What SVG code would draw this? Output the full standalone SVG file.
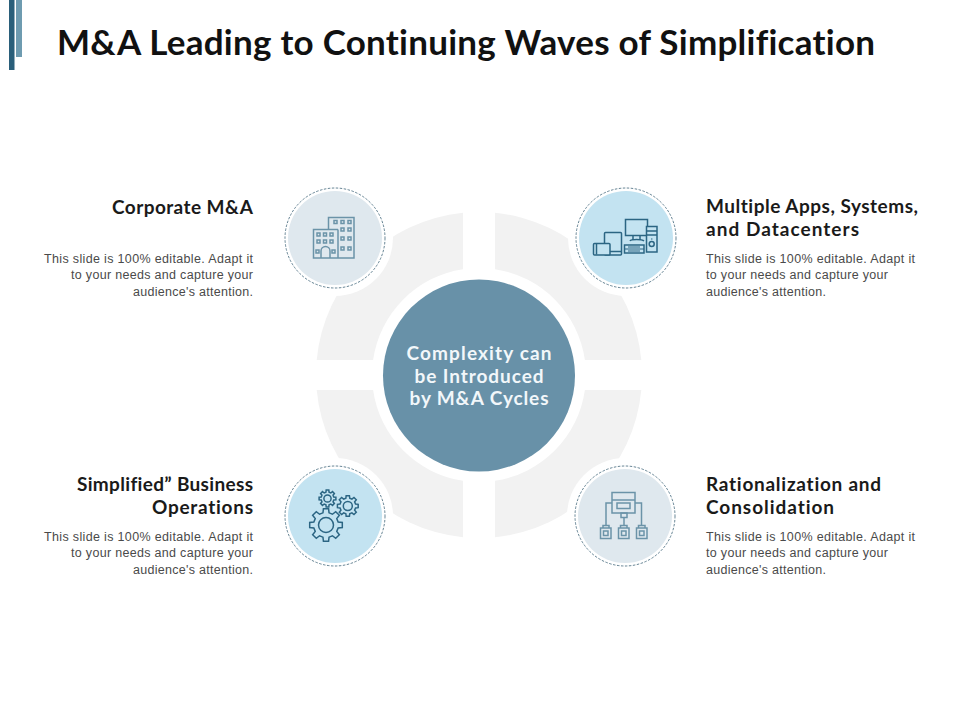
<svg xmlns="http://www.w3.org/2000/svg" xmlns:xlink="http://www.w3.org/1999/xlink" width="960" height="720" viewBox="0 0 960 720">
<style>
text{font-variant-ligatures:none}
.title{font-family:Lato,"Open Sans",sans-serif;font-weight:700;font-size:35px;fill:#111}
.head{font-family:Lato,"Open Sans",sans-serif;font-weight:700;font-size:19px;fill:#1a1a1a}
.body{font-family:"Liberation Sans",Arial,sans-serif;font-size:12.500px;fill:#4a4a4a}
.ctr{font-family:Lato,"Open Sans",sans-serif;font-weight:700;font-size:19px;fill:#f2f7fa;text-anchor:middle}
.end{text-anchor:end}
.seg{fill:#f2f2f2}
.halo{fill:#fff}
.dash{fill:none;stroke:#3f6478;stroke-width:.8;stroke-dasharray:2.500 1.500}
.pale{fill:#dfe8ee}
.sky{fill:#c3e3f1}
.ip{fill:none;stroke:#6b93a8;stroke-width:1.500}
.id{fill:none;stroke:#2b6583;stroke-width:1.500}
.gear{vector-effect:non-scaling-stroke}
</style>
<defs>
<path id="g" class="gear" d="M9.88-1.56 9.88 1.56 7.37 1.84 6.51 3.91 8.09 5.88 5.88 8.09 3.91 6.51 1.84 7.37 1.56 9.88-1.56 9.88-1.84 7.37-3.91 6.51-5.88 8.09-8.09 5.88-6.51 3.91-7.37 1.84-9.88 1.56-9.88-1.56-7.37-1.84-6.51-3.91-8.09-5.88-5.88-8.09-3.91-6.51-1.84-7.37-1.56-9.88 1.56-9.88 1.84-7.37 3.91-6.51 5.88-8.09 8.09-5.88 6.51-3.91 7.37-1.84Z"/>
</defs>
<rect width="960" height="720" fill="#fff"/>
<g id="accent">
<rect x="9" y="0" width="5.500" height="70" fill="#2a5f7a"/>
<rect x="16" y="0" width="6" height="57" fill="#6e9bb0"/>
</g>
<text class="title" x="57" y="55" textLength="818">M&amp;A Leading to Continuing Waves of Simplification</text>
<g id="ring">
<path class="seg" d="M316.7 360A163 163 0 0 1 463 212.8V269.2A107 107 0 0 0 373.1 360Z"/>
<path class="seg" d="M495 212.8A163 163 0 0 1 641.3 360H584.9A107 107 0 0 0 495 269.2Z"/>
<path class="seg" d="M316.7 390H373.1A107 107 0 0 0 463 480.8V537.2A163 163 0 0 1 316.7 390Z"/>
<path class="seg" d="M641.3 390A163 163 0 0 1 495 537.2V480.8A107 107 0 0 0 584.9 390Z"/>
</g>
<g id="center">
<circle cx="479" cy="375.500" r="96" fill="#6891a8"/>
<text class="ctr" x="479" y="360" textLength="145">Complexity can</text>
<text class="ctr" x="479" y="383" textLength="129">be Introduced</text>
<text class="ctr" x="479" y="405" textLength="139">by M&amp;A Cycles</text>
</g>
<g id="node-corporate">
<circle class="halo" cx="335" cy="238" r="58"/>
<circle class="pale" cx="335" cy="238" r="47"/>
<circle class="dash" cx="335" cy="238" r="50"/>
<g class="ip">
<path d="M328.500 229V217.500H354V258H313.500V229.500H338"/>
<path d="M338 229.500V258"/>
<path d="M321 258V251a4.500 4.500 0 0 1 9 0V258"/>
<path d="M334 220.500h3v3h-3zM341 220.500h3v3h-3zM348 220.500h3v3h-3zM341 228h3v3h-3zM348 228h3v3h-3zM341 237h3v3h-3zM348 237h3v3h-3zM341 247h3v3h-3zM348 247h3v3h-3z"/>
<path d="M317 233h3v3h-3zM323.500 233h3v3h-3zM330 233h3v3h-3zM317 240h3v3h-3zM323.500 240h3v3h-3zM330 240h3v3h-3zM316 250h3v3h-3zM332 250h3v3h-3z"/>
</g>
<text class="head end" x="253" y="214" textLength="141">Corporate M&amp;A</text>
<text class="body end" x="253" y="262.500" textLength="209">This slide is 100% editable. Adapt it</text>
<text class="body end" x="253" y="279" textLength="182">to your needs and capture your</text>
<text class="body end" x="253" y="295.500" textLength="120">audience's attention.</text>
</g>
<g id="node-apps">
<circle class="halo" cx="626" cy="238" r="58"/>
<circle class="sky" cx="626" cy="238" r="47"/>
<circle class="dash" cx="626" cy="238" r="50"/>
<g class="id">
<rect x="625.500" y="219.500" width="22" height="16"/>
<path d="M633 235.500V240M640 235.500V240M630 241c1-2 12-2 14 0"/>
<rect x="646.500" y="226.500" width="10.500" height="25.500" fill="#c3e3f1"/>
<path d="M647 231h10M647 235h10"/><circle cx="651.700" cy="244" r="2.500"/><path d="M651.700 238.500v1"/>
<rect x="624.500" y="245" width="19.500" height="8"/><path d="M625 249h19M628 247h12M628 251h12" stroke-width="1"/>
<rect x="604.500" y="232.500" width="17" height="22.500" rx="1" fill="#c3e3f1"/><path d="M605 251.500h16"/>
<rect x="593.500" y="243.500" width="16.500" height="11.500" rx="1" fill="#c3e3f1"/><path d="M596.500 244v10.500"/>
</g>
<text class="head" x="706" y="213" textLength="212">Multiple Apps, Systems,</text>
<text class="head" x="706" y="236" textLength="153">and Datacenters</text>
<text class="body" x="706" y="262.500" textLength="209">This slide is 100% editable. Adapt it</text>
<text class="body" x="706" y="279" textLength="182">to your needs and capture your</text>
<text class="body" x="706" y="295.500" textLength="120">audience's attention.</text>
</g>
<g id="node-operations">
<circle class="halo" cx="335" cy="516" r="58"/>
<circle class="sky" cx="335" cy="516" r="47"/>
<circle class="dash" cx="335" cy="516" r="50"/>
<g class="id">
<use xlink:href="#g" href="#g" transform="translate(327.500 498.500) scale(.85)"/>
<circle cx="327.500" cy="498.500" r="3.600"/>
<use xlink:href="#g" href="#g" transform="translate(347.800 506) scale(1.050)"/>
<circle cx="347.800" cy="506" r="4.500"/>
<use xlink:href="#g" href="#g" transform="translate(326 525) scale(1.650)"/>
<circle cx="326" cy="525" r="7.500"/>
</g>
<text class="head end" x="253" y="491" textLength="176">Simplified” Business</text>
<text class="head end" x="253" y="514" textLength="101">Operations</text>
<text class="body end" x="253" y="540.500" textLength="209">This slide is 100% editable. Adapt it</text>
<text class="body end" x="253" y="557" textLength="182">to your needs and capture your</text>
<text class="body end" x="253" y="573.500" textLength="120">audience's attention.</text>
</g>
<g id="node-rationalization">
<circle class="halo" cx="625" cy="516" r="58"/>
<circle class="pale" cx="625" cy="516" r="47"/>
<circle class="dash" cx="625" cy="516" r="50"/>
<g class="ip">
<rect x="612" y="492.500" width="23" height="20.500"/>
<path d="M612 500h23"/>
<rect x="617" y="503" width="13" height="5.500"/>
<rect x="621" y="513" width="6" height="4.500"/>
<path d="M624 517.500V525M612 503H606V525M635 503H641.500V525"/>
<path d="M603 528V525.500H609V528M620.500 528V525.500H627V528M638.500 528V525.500H645V528"/>
<rect x="600.500" y="528" width="10.500" height="10.500"/><rect x="603.500" y="531" width="4.500" height="4.500"/>
<rect x="618.500" y="528" width="10.500" height="10.500"/><rect x="621.500" y="531" width="4.500" height="4.500"/>
<rect x="636.500" y="528" width="10.500" height="10.500"/><rect x="639.500" y="531" width="4.500" height="4.500"/>
</g>
<text class="head" x="706" y="491" textLength="175">Rationalization and</text>
<text class="head" x="706" y="514" textLength="128">Consolidation</text>
<text class="body" x="706" y="540.500" textLength="209">This slide is 100% editable. Adapt it</text>
<text class="body" x="706" y="557" textLength="182">to your needs and capture your</text>
<text class="body" x="706" y="573.500" textLength="120">audience's attention.</text>
</g>
</svg>
